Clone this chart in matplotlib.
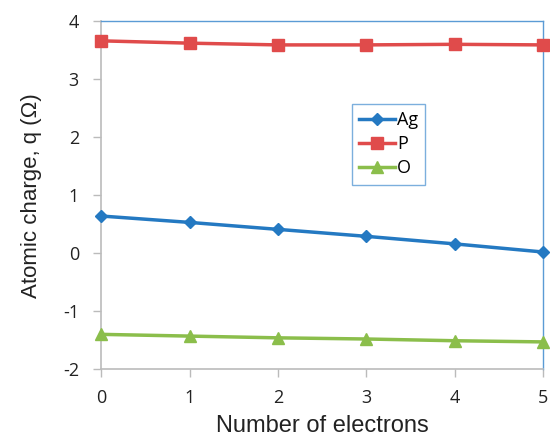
import matplotlib
matplotlib.use("Agg")
import matplotlib.pyplot as plt

plt.rcParams['font.family'] = ['Open Sans', 'DejaVu Sans']
plt.rcParams['axes.unicode_minus'] = False

electrons = [0, 1, 2, 3, 4, 5]
ag = [0.64, 0.53, 0.41, 0.29, 0.16, 0.02]
p = [3.66, 3.62, 3.59, 3.59, 3.60, 3.59]
o = [-1.40, -1.43, -1.46, -1.48, -1.51, -1.53]

fig = plt.figure(figsize=(5.5, 4.4), dpi=100)
ax = fig.add_axes([0.184, 0.161, 0.803, 0.791])

ax.plot(electrons, ag, color='#2479C2', lw=2.5, marker='D', ms=6, label='Ag', clip_on=False, zorder=3)
ax.plot(electrons, p, color='#E04B4B', lw=2.5, marker='s', ms=8, label='P', clip_on=False, zorder=3)
ax.plot(electrons, o, color='#8BBE4B', lw=2.5, marker='^', ms=8, label='O', clip_on=False, zorder=3)

ax.set_xlim(0, 5)
ax.set_ylim(-2, 4)
ax.set_xticks(electrons)
ax.set_yticks([-2, -1, 0, 1, 2, 3, 4])

for s in ['left', 'bottom']:
    ax.spines[s].set_color('#BBBBBB')
    ax.spines[s].set_linewidth(1.2)
for s in ['top', 'right']:
    ax.spines[s].set_color('#5B9BD5')
    ax.spines[s].set_linewidth(1.0)

ax.tick_params(axis='both', direction='out', length=6, width=1, color='#BBBBBB', labelsize=13, labelcolor='#222222')
ax.tick_params(axis='y', pad=10)
ax.tick_params(axis='x', pad=8)

lab_font = ['Liberation Sans', 'DejaVu Sans']
ax.set_xlabel('Number of electrons', fontsize=17, family=lab_font, color='#222222', labelpad=6)
ax.set_ylabel('Atomic charge, q (Ω)', fontsize=16, family=lab_font, color='#222222', labelpad=15)

leg = ax.legend(loc='upper left', bbox_to_anchor=(0.567, 0.763), frameon=True, fancybox=False,
                edgecolor='#5B9BD5', fontsize=13, handlelength=2.0, handletextpad=0.1,
                borderpad=0.4, labelspacing=0.35, borderaxespad=0)
leg.get_frame().set_linewidth(1.0)

fig.savefig('out.png', dpi=100)
